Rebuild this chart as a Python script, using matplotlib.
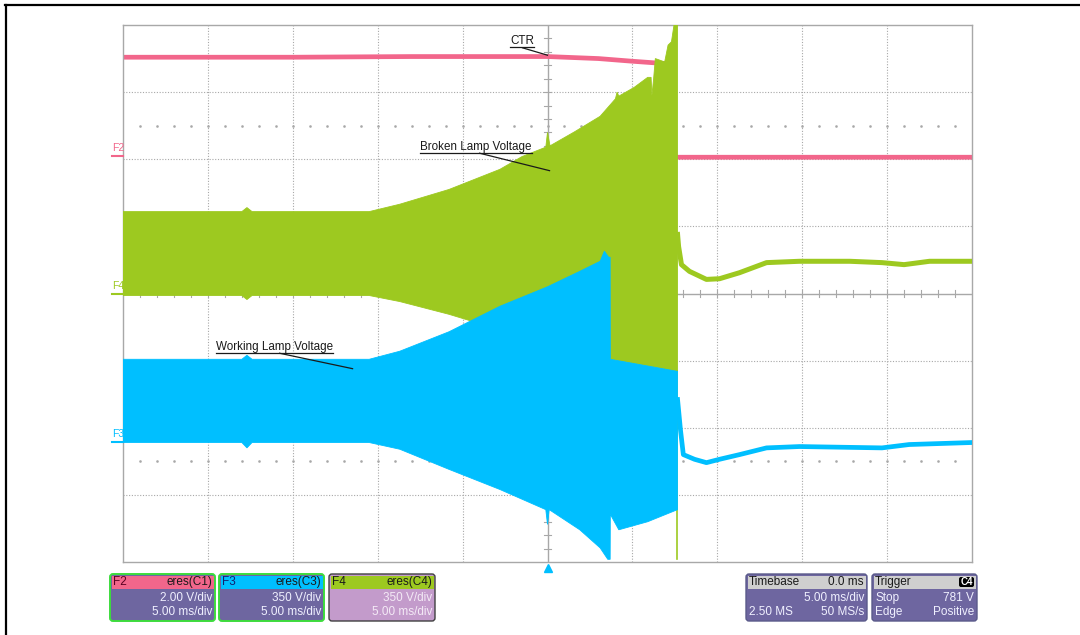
"""
plot.py - scope capture: CTR, broken lamp and working lamp voltage.
"""

import numpy as np
import matplotlib.pyplot as plt
from matplotlib.patches import FancyBboxPatch, Rectangle, Polygon
from matplotlib.transforms import IdentityTransform

plt.rcParams['font.family'] = ['Liberation Sans', 'DejaVu Sans']

# ── Trace data: time [ms], level [div] ───────────────────────────────────
# F2 : CTR signal (2.00 V/div)
f2_t = [-25.0, -15.0, -8.0, 0.0, 3.0, 5.0, 7.2, 7.4, 7.5, 25.0]
f2_v = [3.52, 3.52, 3.53, 3.53, 3.50, 3.46, 3.42, 3.42, 2.03, 2.03]

# F4 : broken lamp voltage envelope (350 V/div)
f4_top_t = [-25.0, -18.0, -17.7, -17.4, -10.5, -8.7, -5.8, -2.8, -1.5, -0.1,
            0.0, 0.15, 1.6, 3.1, 4.0, 4.1, 4.2, 5.1, 5.9, 6.1, 6.15, 6.25,
            6.35, 6.9, 7.1, 7.3, 7.45, 7.66]
f4_top_v = [1.22, 1.22, 1.28, 1.22, 1.22, 1.33, 1.55, 1.85, 2.04, 2.18,
            2.40, 2.20, 2.41, 2.64, 2.90, 3.00, 2.94, 3.07, 3.22, 3.22, 2.95, 3.20,
            3.50, 3.45, 3.70, 3.75, 4.00, 4.00]
f4_bot_t = [-25.0, -18.0, -17.7, -17.4, -10.5, -8.7, -5.8, -2.8, 0.0, 3.5, 3.7, 7.66]
f4_bot_v = [-0.03, -0.03, -0.09, -0.03, -0.03, -0.12, -0.31, -0.54, -0.69, -0.91, -0.98, -1.16]
f4_spike_t = [7.6, 7.6]
f4_spike_v = [-1.16, -3.96]
f4_after_t = [7.66, 7.72, 7.89, 8.36, 9.36, 10.13, 11.31, 12.9, 14.84, 17.8, 19.7, 21.0, 22.5, 25.0]
f4_after_v = [0.88, 0.70, 0.43, 0.33, 0.21, 0.22, 0.31, 0.46, 0.48, 0.48, 0.46, 0.43, 0.48, 0.48]

# F3 : working lamp voltage envelope (350 V/div)
f3_top_t = [-25.0, -18.0, -17.7, -17.4, -10.5, -8.7, -5.8, -2.8, 0.0, 1.9, 3.1,
            3.35, 3.6, 3.69, 3.7, 7.66]
f3_top_v = [-0.98, -0.98, -0.92, -0.98, -0.98, -0.86, -0.57, -0.19, 0.10, 0.33, 0.48,
            0.63, 0.54, 0.54, -0.98, -1.16]
f3_bot_t = [-25.0, -18.0, -17.7, -17.4, -10.5, -8.7, -5.8, -2.8, -0.1, 0.0, 0.1,
            1.9, 3.1, 3.55, 3.69, 3.7, 4.2, 5.9, 7.66]
f3_bot_v = [-2.22, -2.22, -2.30, -2.22, -2.22, -2.32, -2.62, -2.92, -3.22, -3.44, -3.22,
            -3.52, -3.79, -3.96, -3.96, -3.29, -3.52, -3.40, -3.22]
f3_after_t = [7.66, 7.83, 8.0, 8.66, 9.36, 10.13, 11.31, 12.9, 14.84, 19.7, 21.3, 25.0]
f3_after_v = [-1.58, -2.03, -2.40, -2.47, -2.52, -2.47, -2.40, -2.30, -2.28, -2.30, -2.25, -2.22]

PINK = '#f2668b'
GREEN = '#9dc920'
BLUE = '#00bfff'
GRID = '#a8a8a8'
PURPLE = '#6e66a0'

W, H = 1080, 635
def fx(px): return px / W
def fy(py): return 1 - py / H

fig = plt.figure(figsize=(10.8, 6.35), dpi=100)
PIX = IdentityTransform()

# ── Page frame ────────────────────────────────────────────────────────────
fig.add_artist(plt.Line2D([fx(6), fx(6)], [fy(5), 0], color='black', lw=1.6))
fig.add_artist(plt.Line2D([fx(5), 1], [fy(5), fy(5)], color='black', lw=1.6))

# ── Graticule ─────────────────────────────────────────────────────────────
ax = fig.add_axes([fx(123), fy(562), fx(972) - fx(123), fy(25) - fy(562)])
ax.set_xlim(-25, 25)
ax.set_ylim(-4, 4)
ax.set_xticks([])
ax.set_yticks([])
for s in ax.spines.values():
    s.set_color(GRID)
    s.set_linewidth(1.0)

for x in range(-20, 25, 5):
    if x != 0:
        ax.axvline(x, color=GRID, lw=0.8, ls=(0, (1, 1.5)), zorder=0)
for y in range(-3, 4):
    if y != 0:
        ax.axhline(y, color=GRID, lw=0.8, ls=(0, (1, 1.5)), zorder=0)
ax.axvline(0, color=GRID, lw=1.0, zorder=0)
ax.axhline(0, color=GRID, lw=1.0, zorder=0)
for x in np.arange(-24, 25, 1):
    ax.plot([x, x], [-0.045, 0.045], color=GRID, lw=0.8, zorder=0)
for y in np.arange(-3.8, 4, 0.2):
    ax.plot([-0.18, 0.18], [y, y], color=GRID, lw=0.8, zorder=0)
for yd in (2.5, -2.5):
    ax.plot(np.arange(-24, 25, 1), np.full(49, yd), ls='none', marker='s',
            ms=0.8, color=GRID, zorder=0)

# ── Traces ────────────────────────────────────────────────────────────────
ax.plot(f2_t, f2_v, color=PINK, lw=3.4, zorder=2, solid_capstyle='butt')

ax.add_patch(Polygon(np.c_[np.r_[f4_top_t, f4_bot_t[::-1]],
                           np.r_[f4_top_v, f4_bot_v[::-1]]],
                     closed=True, facecolor=GREEN, edgecolor=GREEN, lw=0.6, zorder=3))
ax.plot(f4_spike_t, f4_spike_v, color=GREEN, lw=1.2, zorder=3)
ax.plot(f4_after_t, f4_after_v, color=GREEN, lw=3.6, zorder=3)

ax.add_patch(Polygon(np.c_[np.r_[f3_top_t, f3_bot_t[::-1]],
                           np.r_[f3_top_v, f3_bot_v[::-1]]],
                     closed=True, facecolor=BLUE, edgecolor=BLUE, lw=0.6, zorder=4))
ax.plot(f3_after_t, f3_after_v, color=BLUE, lw=3.4, zorder=4)

# trigger marker
ax.plot([0], [-4.09], marker='^', ms=6, color=BLUE, clip_on=False, zorder=5)

# ── Annotations ───────────────────────────────────────────────────────────
labels = [
    ('CTR', -2.18, 3.72, (-1.47, 3.66), (0.0, 3.55)),
    ('Broken Lamp Voltage', -7.48, 2.14, (-4.0, 2.09), (0.12, 1.83)),
    ('Working Lamp Voltage', -19.55, -0.84, (-15.78, -0.89), (-11.48, -1.12)),
]
texts = []
for s, x, y, p0, p1 in labels:
    t = ax.text(x, y, s, fontsize=8.4, color='#1a1a1a', ha='left', va='baseline', zorder=6)
    ax.plot([p0[0], p1[0]], [p0[1], p1[1]], color='#1a1a1a', lw=0.9, zorder=6)
    texts.append(t)

fig.canvas.draw()
renderer = fig.canvas.get_renderer()
inv = ax.transData.inverted()
for t in texts:
    bb = t.get_window_extent(renderer)
    (x0, y0), (x1, _) = inv.transform([[bb.x0, bb.y0 - 0.5], [bb.x1, bb.y0]])
    ax.plot([x0, x1], [y0, y0], color='#1a1a1a', lw=0.9, zorder=6, clip_on=False)

# ── Channel ground markers ────────────────────────────────────────────────
for name, col, py in (('F2', PINK, 156), ('F4', GREEN, 294), ('F3', BLUE, 442)):
    fig.text(112, H - py + 3, name, transform=PIX, fontsize=7.5, color=col,
             ha='left', va='bottom')
    fig.add_artist(plt.Line2D([112, 123], [H - py, H - py], transform=PIX,
                              color=col, lw=1.5))

# ── Info panels (pixel coordinates) ───────────────────────────────────────
def panel(x0, x1, head_col, head_l, head_r, rows, body_col=PURPLE, edge='#5a5a8a',
          edge_lw=1.0, txt='#f0f0ff', head_txt='#1a1a1a', head_l_col=None):
    y_top, y_bot = H - 574, H - 621
    fig.add_artist(FancyBboxPatch((x0, y_bot), x1 - x0, y_top - y_bot,
                                  boxstyle='round,pad=0,rounding_size=3',
                                  transform=PIX, facecolor=body_col, edgecolor='none'))
    fig.add_artist(Rectangle((x0 + 1.5, H - 589), x1 - x0 - 3, 13.5, transform=PIX,
                             facecolor=head_col, edgecolor='none'))
    fig.add_artist(FancyBboxPatch((x0, y_bot), x1 - x0, y_top - y_bot,
                                  boxstyle='round,pad=0,rounding_size=3',
                                  transform=PIX, facecolor='none', edgecolor=edge,
                                  lw=edge_lw))
    fig.text(x0 + 3, H - 582, head_l, transform=PIX, fontsize=8.5,
             color=head_l_col or head_txt, ha='left', va='center')
    if head_r:
        fig.text(x1 - 3, H - 582, head_r, transform=PIX, fontsize=8.5,
                 color=head_txt, ha='right', va='center')
    for (l, r), py in zip(rows, (598, 612)):
        if l:
            fig.text(x0 + 3, H - py, l, transform=PIX, fontsize=8.5, color=txt,
                     ha='left', va='center')
        if r:
            fig.text(x1 - 3, H - py, r, transform=PIX, fontsize=8.5, color=txt,
                     ha='right', va='center')

panel(110, 215, PINK, 'F2', 'eres(C1)', [('', '2.00 V/div'), ('', '5.00 ms/div')],
      edge='#3ddc3d', edge_lw=1.4, head_l_col='#5a0020')
panel(219, 324, BLUE, 'F3', 'eres(C3)', [('', '350 V/div'), ('', '5.00 ms/div')],
      edge='#3ddc3d', edge_lw=1.4, head_l_col='#102070')
panel(329, 435, GREEN, 'F4', 'eres(C4)', [('', '350 V/div'), ('', '5.00 ms/div')],
      body_col='#c39bcb', edge='#404040', edge_lw=1.0, txt='#f4eaf6')
panel(746, 867, '#cfcfcf', 'Timebase', '0.0 ms',
      [('', '5.00 ms/div'), ('2.50 MS', '50 MS/s')])
panel(872, 977, '#cfcfcf', 'Trigger', None,
      [('Stop', '781 V'), ('Edge', 'Positive')])
fig.add_artist(FancyBboxPatch((959, H - 587), 15, 10, boxstyle='round,pad=0,rounding_size=2',
                              transform=PIX, facecolor='black', edgecolor='none'))
fig.text(966.5, H - 582, 'C4', transform=PIX, fontsize=7, color='white',
         ha='center', va='center', fontweight='bold')

fig.savefig('out.png', dpi=100)
